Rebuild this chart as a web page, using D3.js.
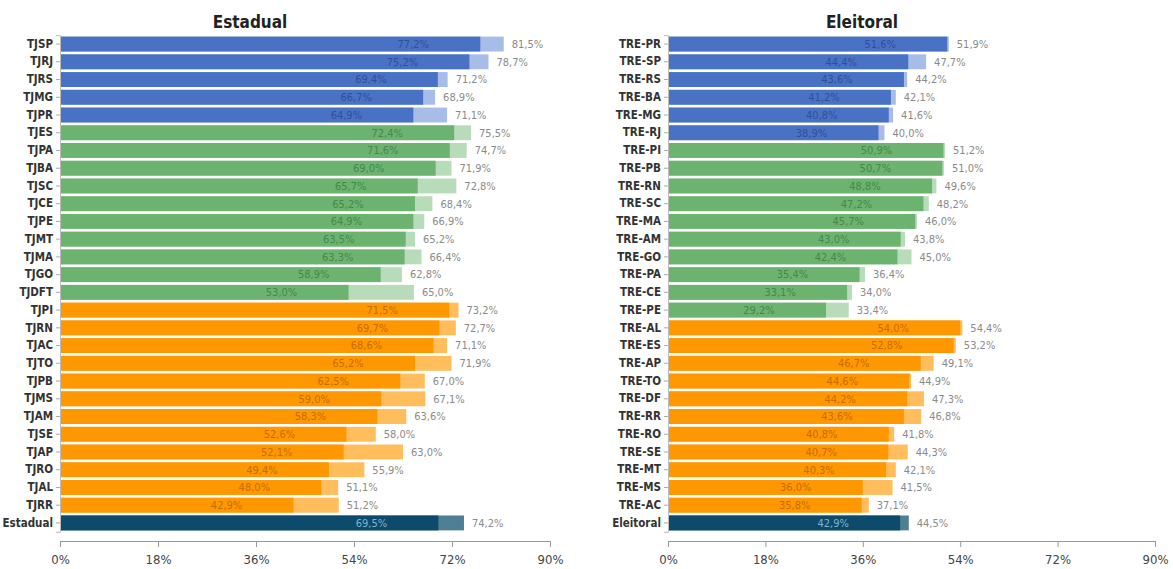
<!DOCTYPE html>
<html>
<head>
<meta charset="utf-8">
<script src="https://cdn.jsdelivr.net/npm/d3@7"></script>
<style>
  body { margin: 0; background: #fff; }
  svg text { font-family: "DejaVu Sans Condensed", "DejaVu Sans", "Roboto", sans-serif; font-stretch: condensed; }
</style>
</head>
<body>
<div id="chart"></div>
<script>
// Estadual panel
const estLabels = ["TJSP","TJRJ","TJRS","TJMG","TJPR","TJES","TJPA","TJBA","TJSC","TJCE","TJPE","TJMT","TJMA","TJGO","TJDFT",
  "TJPI","TJRN","TJAC","TJTO","TJPB","TJMS","TJAM","TJSE","TJAP","TJRO","TJAL","TJRR","Estadual"]
const estGroups = ["g","g","g","g","g","m","m","m","m","m","m","m","m","m","m",
  "p","p","p","p","p","p","p","p","p","p","p","p","t"]
const estValor = [77.2,75.2,69.4,66.7,64.9,72.4,71.6,69.0,65.7,65.2,64.9,63.5,63.3,58.9,53.0,
  71.5,69.7,68.6,65.2,62.5,59.0,58.3,52.6,52.1,49.4,48.0,42.9,69.5]
const estTotal = [81.5,78.7,71.2,68.9,71.1,75.5,74.7,71.9,72.8,68.4,66.9,65.2,66.4,62.8,65.0,
  73.2,72.7,71.1,71.9,67.0,67.1,63.6,58.0,63.0,55.9,51.1,51.2,74.2]

// Eleitoral panel
const eleLabels = ["TRE-PR","TRE-SP","TRE-RS","TRE-BA","TRE-MG","TRE-RJ","TRE-PI","TRE-PB","TRE-RN","TRE-SC","TRE-MA","TRE-AM","TRE-GO","TRE-PA","TRE-CE","TRE-PE",
  "TRE-AL","TRE-ES","TRE-AP","TRE-TO","TRE-DF","TRE-RR","TRE-RO","TRE-SE","TRE-MT","TRE-MS","TRE-AC","Eleitoral"]
const eleGroups = ["g","g","g","g","g","g","m","m","m","m","m","m","m","m","m","m",
  "p","p","p","p","p","p","p","p","p","p","p","t"]
const eleValor = [51.6,44.4,43.6,41.2,40.8,38.9,50.9,50.7,48.8,47.2,45.7,43.0,42.4,35.4,33.1,29.2,
  54.0,52.8,46.7,44.6,44.2,43.6,40.8,40.7,40.3,36.0,35.8,42.9]
const eleTotal = [51.9,47.7,44.2,42.1,41.6,40.0,51.2,51.0,49.6,48.2,46.0,43.8,45.0,36.4,34.0,33.4,
  54.4,53.2,49.1,44.9,47.3,46.8,41.8,44.3,42.1,41.5,37.1,44.5]

const xTicks = [0,18,36,54,72,90]

const colorDark  = {g:"#4a72c4", m:"#6cb36f", p:"#ff9800", t:"#0e4a6b"}
const colorLight = {g:"#a7bde7", m:"#b8dcb9", p:"#ffbd5c", t:"#4f7f92"}
const colorText  = {g:"#2f4f99", m:"#45884a", p:"#c76c00", t:"#7fb3cf"}

const W = 1173, H = 569

const svg = d3.select("#chart").append("svg")
    .attr("width", W)
    .attr("height", H)

const fmt = v => d3.format(".1f")(v).replace(".", ",") + "%"

function drawPanel(labels, groups, valor, total, title, x0, x1, titleX){
    const rows = labels.map((d,i) => ({name:d, g:groups[i], v:valor[i], t:total[i]}))

    const x = d3.scaleLinear().domain([0,90]).range([x0,x1])
    const y = d3.scaleBand()
        .domain(labels)
        .range([35.2, 531.8])
        .paddingInner(0.16)
        .paddingOuter(0.08)

    const g = svg.append("g")

    g.append("text")
        .attr("x", titleX)
        .attr("y", 28)
        .attr("text-anchor","middle")
        .style("font-size","17px")
        .style("font-weight","bold")
        .attr("fill","#222")
        .text(title)

    // total (light) bars
    g.selectAll(".tot")
        .data(rows)
        .join("rect")
        .attr("x", x(0))
        .attr("y", d => y(d.name))
        .attr("width", d => x(d.t) - x(0))
        .attr("height", y.bandwidth())
        .attr("fill", d => colorLight[d.g])

    // value (dark) bars
    g.selectAll(".val")
        .data(rows)
        .join("rect")
        .attr("x", x(0))
        .attr("y", d => y(d.name))
        .attr("width", d => x(d.v) - x(0))
        .attr("height", y.bandwidth())
        .attr("fill", d => colorDark[d.g])

    // labels inside
    g.selectAll(".vlab")
        .data(rows)
        .join("text")
        .attr("x", d => x(d.v) - 67)
        .attr("y", d => y(d.name) + y.bandwidth()/2)
        .attr("dy","0.35em")
        .attr("text-anchor","middle")
        .style("font-size","11px")
        .attr("fill", d => colorText[d.g])
        .text(d => fmt(d.v))

    // labels outside
    g.selectAll(".tlab")
        .data(rows)
        .join("text")
        .attr("x", d => x(d.t) + 8)
        .attr("y", d => y(d.name) + y.bandwidth()/2)
        .attr("dy","0.35em")
        .style("font-size","11px")
        .attr("fill","#8a8a8a")
        .text(d => fmt(d.t))

    // y axis
    const yAxis = g.append("g")
        .attr("transform", `translate(${x0},0)`)
        .call(d3.axisLeft(y).tickSize(4).tickPadding(3))
    yAxis.select(".domain").attr("stroke","#bbb")
    yAxis.selectAll(".tick line").attr("stroke","#aaa")
    yAxis.selectAll("text")
        .style("font-size","11.5px")
        .style("font-weight","bold")
        .attr("fill","#333")

    // x axis
    const xAxis = g.append("g")
        .attr("transform", `translate(0,541)`)
        .call(d3.axisBottom(x).tickValues(xTicks).tickFormat(d => d + "%").tickSize(6).tickPadding(8).tickSizeOuter(0))
    xAxis.select(".domain").attr("stroke","#999")
    xAxis.selectAll(".tick line").attr("stroke","#999")
    xAxis.selectAll("text")
        .style("font-size","13px")
        .attr("fill","#444")
}

drawPanel(estLabels, estGroups, estValor, estTotal, "Estadual", 60, 550, 250)
drawPanel(eleLabels, eleGroups, eleValor, eleTotal, "Eleitoral", 668, 1155, 862)
</script>
</body>
</html>
